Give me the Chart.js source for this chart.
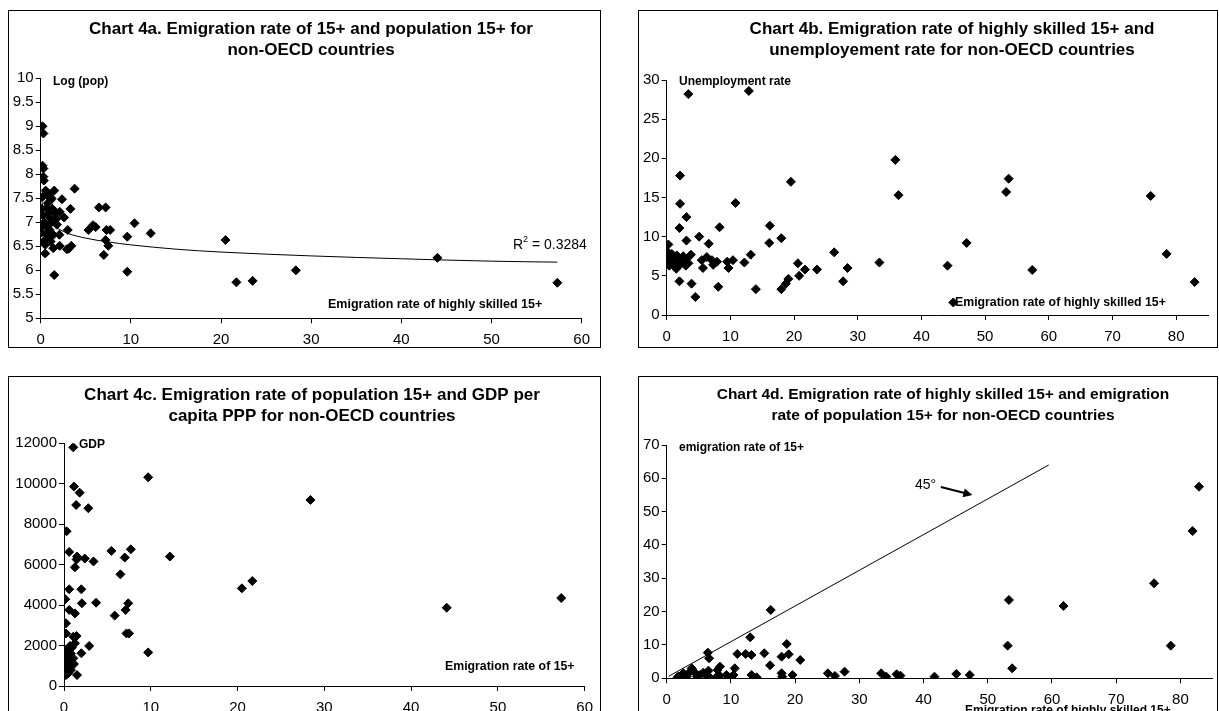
<!DOCTYPE html>
<html>
<head>
<meta charset="utf-8">
<script src="https://cdn.jsdelivr.net/npm/chart.js@4.4.0/dist/chart.umd.min.js"></script>
<style>
    html, body { margin: 0; padding: 0; background: #fff; width: 1219px; height: 711px; overflow: hidden; }
    canvas { position: absolute; }
</style>
</head>
<body>
<canvas id="c4a"></canvas>
<canvas id="c4b"></canvas>
<canvas id="c4c"></canvas>
<canvas id="c4d"></canvas>
<script>
const FONT = '"Liberation Sans", Arial, sans-serif';

// Chart 4a: emigration rate of highly skilled 15+ (x) vs log population (y)
const pop4a = [
    [0.2, 9.0], [0.3, 8.85], [0.2, 8.18], [0.3, 8.12], [0.3, 7.95], [0.35, 7.87], [0.55, 7.66], [0.2, 7.53],
    [0.66, 7.58], [1.5, 7.66], [3.76, 7.7], [2.36, 7.48], [1.14, 7.47], [0.1, 7.28], [1.3, 7.28], [3.3, 7.28],
    [6.46, 7.31], [7.2, 7.31], [0.2, 7.15], [0.9, 7.19], [2.1, 7.22], [1.77, 7.08], [0.3, 6.94], [1.0, 6.84],
    [3.0, 6.84], [0.1, 6.79], [0.66, 6.74], [1.4, 6.74], [2.07, 6.74], [0.3, 6.6], [0.5, 6.53], [0.5, 6.35],
    [1.4, 6.46], [2.1, 6.51], [2.9, 6.44], [3.4, 6.51], [1.5, 5.9], [5.3, 6.84], [5.8, 6.94], [6.1, 6.9],
    [7.3, 6.84], [7.7, 6.84], [7.2, 6.63], [7.5, 6.51], [7.0, 6.32], [9.6, 6.7], [10.4, 6.98], [12.2, 6.77],
    [9.6, 5.97], [20.5, 6.63], [21.7, 5.75], [23.5, 5.78], [28.3, 6.0], [44.0, 6.26], [57.3, 5.74],
    [0.8, 7.4], [1.0, 7.1], [1.2, 7.0], [0.7, 6.9], [1.6, 7.2], [0.9, 7.6], [1.2, 7.5], [0.4, 7.0],
    [0.6, 7.3], [2.6, 7.1], [1.8, 6.95], [0.8, 6.65], [1.1, 6.6], [3.1, 6.45]
];
// logarithmic trend line
const trend4a = [
    [0.1, 7.47], [0.3, 7.25], [0.6, 7.1], [1, 7.0], [2, 6.86], [3, 6.77], [5, 6.67], [7.5, 6.59],
    [10, 6.53], [15, 6.44], [20, 6.38], [30, 6.3], [40, 6.24], [50, 6.19], [57.3, 6.17]
];

// Chart 4b: emigration rate of highly skilled 15+ (x) vs unemployment rate (y)
const unemp4b = [
    [3.4, 28.2], [12.9, 28.6], [2.1, 17.8], [2.1, 14.2], [3.1, 12.5], [2.0, 11.1], [3.1, 9.5], [0.26, 9.0],
    [5.1, 10.0], [6.6, 9.1], [8.3, 11.2], [10.8, 14.3], [16.2, 11.4], [16.1, 9.2], [18.0, 9.8], [19.5, 17.0],
    [35.9, 19.8], [36.4, 15.3], [2.0, 4.3], [3.9, 4.0], [4.5, 2.3], [3.8, 7.7], [5.7, 6.0], [5.5, 7.0],
    [6.3, 7.4], [7.1, 7.0], [7.3, 6.4], [7.9, 6.8], [8.1, 3.6], [9.5, 6.8], [9.7, 6.0], [10.4, 7.0],
    [12.2, 6.7], [13.2, 7.7], [14.0, 3.3], [18.0, 3.3], [18.7, 4.0], [19.1, 4.6], [20.6, 6.6], [20.8, 5.0],
    [21.7, 5.8], [23.6, 5.8], [26.3, 8.0], [27.7, 4.3], [28.4, 6.0], [33.4, 6.7], [53.7, 17.4], [53.3, 15.7],
    [76.0, 15.2], [47.1, 9.2], [78.5, 7.8], [44.1, 6.3], [57.4, 5.75], [82.9, 4.2], [45.0, 1.6],
    [0.2, 8.0], [0.3, 7.6], [0.2, 7.2], [0.3, 6.8], [0.5, 7.4], [0.6, 7.0], [0.7, 6.6], [0.8, 7.8],
    [0.9, 7.2], [1.0, 6.4], [1.1, 7.5], [1.2, 6.9], [1.4, 7.1], [1.5, 6.2], [1.6, 7.6], [1.8, 6.7],
    [2.0, 7.3], [2.2, 6.5], [2.4, 7.0], [2.6, 7.5], [2.8, 6.8], [3.0, 6.3], [3.2, 7.2], [3.4, 6.6],
    [1.5, 5.9], [0.4, 6.3]
];

// Chart 4c: emigration rate of 15+ (x) vs GDP per capita PPP (y)
const gdp4c = [
    [1.07, 11800], [9.7, 10320], [1.15, 9860], [1.8, 9560], [1.4, 8950], [2.8, 8790], [0.3, 7650], [0.6, 6630],
    [1.5, 6400], [1.45, 6260], [2.4, 6300], [3.4, 6160], [1.26, 5870], [5.46, 6680], [7.0, 6350], [7.7, 6760],
    [12.2, 6400], [6.5, 5520], [0.6, 4780], [2.0, 4780], [0.15, 4290], [2.06, 4090], [3.7, 4120], [0.6, 3760],
    [1.26, 3590], [7.4, 4090], [7.1, 3760], [5.84, 3480], [0.23, 3100], [0.23, 2600], [7.2, 2600], [7.5, 2600],
    [1.07, 2440], [1.45, 2470], [1.26, 2110], [2.9, 1980], [0.7, 1980], [2.0, 1620], [9.7, 1660], [0.23, 1780],
    [0.5, 1530], [0.1, 1290], [0.7, 1200], [0.3, 960], [0.9, 1040], [1.15, 1090], [0.1, 710], [0.5, 630],
    [0.23, 540], [1.5, 540], [0.8, 790], [0.3, 1620], [0.6, 1780], [1.07, 1370], [0.4, 1100], [0.2, 1450],
    [0.8, 1600], [0.5, 850], [0.9, 1900], [20.5, 4830], [21.7, 5190], [28.4, 9200], [44.1, 3870], [57.3, 4350]
];

// Chart 4d: emigration rate of highly skilled 15+ (x) vs emigration rate of 15+ (y)
const emig4d = [
    [16.2, 20.5], [13.0, 12.3], [6.4, 7.7], [6.6, 6.0], [11.0, 7.3], [12.3, 7.3], [13.2, 7.0], [15.2, 7.5],
    [16.1, 3.9], [18.7, 10.3], [17.9, 6.5], [19.0, 7.2], [20.8, 5.5], [10.6, 3.0], [8.3, 3.5], [7.9, 2.5],
    [3.9, 3.0], [13.2, 1.0], [14.0, 0.3], [17.9, 1.5], [18.0, 0.5], [19.6, 1.0], [25.1, 1.5], [26.2, 0.7],
    [27.7, 2.0], [33.4, 1.5], [34.2, 0.5], [35.8, 1.2], [36.4, 0.8], [1.7, 0.3], [1.8, 0.5], [2.3, 1.0],
    [3.1, 0.5], [3.4, 1.5], [4.4, 1.7], [5.2, 1.0], [5.7, 1.7], [6.6, 0.5], [6.5, 2.3], [7.8, 0.5],
    [8.3, 0.7], [9.3, 1.0], [10.1, 0.5], [10.4, 1.0], [4.7, 0.5], [2.6, 1.5], [6.1, 1.0],
    [82.9, 57.5], [81.9, 44.2], [75.9, 28.5], [53.3, 23.5], [61.8, 21.7], [53.1, 9.8], [78.5, 9.8],
    [53.8, 3.0], [41.7, 0.5], [45.1, 1.3], [47.2, 1.0]
];
// reference line labelled 45°
const line4d = [[0.3, 0.6], [59.5, 64]];

// draw a scatter panel with a fixed plot area
function makePanel(id, p) {
    const cv = document.getElementById(id);
    const [bx, by, bw, bh] = p.box;
    cv.width = bw; cv.height = bh;
    cv.style.left = bx + 'px'; cv.style.top = by + 'px';
    cv.style.width = bw + 'px'; cv.style.height = bh + 'px';
    const left = p.area[0] - bx, top = p.area[1] - by, right = p.area[2] - bx, bottom = p.area[3] - by;

    const keepSteps = (step) => (s) => {
        s.ticks = s.ticks.filter(t => Math.abs(t.value / step - Math.round(t.value / step)) < 1e-6);
    };
    const axis = (r, isX) => ({
        type: 'linear',
        min: r.min, max: r.max,
        afterBuildTicks: keepSteps(r.step),
        afterFit: (s) => { if (isX) s.height = bh - bottom; else s.width = left; },
        ticks: {
            stepSize: r.step, color: '#000', autoSkip: false, maxRotation: 0,
            padding: isX ? 8 : 2,
            font: { family: FONT, size: 15 },
            callback: (v) => String(v)
        },
        grid: { drawOnChartArea: false, drawTicks: true, tickLength: 5, color: '#000', lineWidth: 1 },
        border: { display: true, color: '#000', width: 1 }
    });

    // titles, axis texts and frame
    const deco = {
        id: 'deco' + id,
        afterDraw(chart) {
            const ctx = chart.ctx;
            ctx.save();
            ctx.strokeStyle = '#000';
            ctx.lineWidth = 1;
            ctx.strokeRect(0.5, 0.5, bw - 1, bh - 1);
            ctx.fillStyle = '#000';
            ctx.textBaseline = 'middle';
            ctx.textAlign = 'center';
            ctx.font = 'bold ' + p.titleSize + 'px ' + FONT;
            p.title.forEach((t, i) => ctx.fillText(t, p.titleX - bx, 19 + i * 21));
            ctx.textAlign = 'left';
            p.texts.forEach(t => {
                ctx.font = (t.bold ? 'bold ' : '') + t.size + 'px ' + FONT;
                ctx.fillText(t.text, t.x - bx, t.y - by);
            });
            if (p.extra) p.extra(chart, ctx, bx, by);
            ctx.restore();
        }
    };

    const datasets = [{
        data: p.points.map(([x, y]) => ({ x, y })),
        pointStyle: 'rectRot', pointRadius: 4.5, pointHoverRadius: 4.5,
        backgroundColor: '#000', borderColor: '#000', borderWidth: 1, showLine: false
    }];
    if (p.line) {
        datasets.push({
            data: p.line.map(([x, y]) => ({ x, y })),
            showLine: true, pointRadius: 0, borderColor: '#000', borderWidth: 1,
            tension: 0.4, cubicInterpolationMode: 'monotone', fill: false
        });
    }

    return new Chart(cv.getContext('2d'), {
        type: 'scatter',
        data: { datasets },
        options: {
            responsive: false, animation: false,
            layout: { padding: { left: 0, top: top, right: bw - right, bottom: 0 } },
            scales: { x: axis(p.x, true), y: axis(p.y, false) },
            plugins: { legend: { display: false }, tooltip: { enabled: false }, title: { display: false } }
        },
        plugins: [deco]
    });
}

makePanel('c4a', {
    box: [8, 10, 593, 338], area: [40.7, 78.3, 581.7, 318.3],
    x: { min: 0, max: 60, step: 10 }, y: { min: 5, max: 10, step: 0.5 },
    points: pop4a, line: trend4a,
    titleX: 311, titleSize: 17,
    title: ['Chart 4a. Emigration rate of 15+ and population 15+ for', 'non-OECD countries'],
    texts: [
        { text: 'Log (pop)', x: 53, y: 82, bold: true, size: 12 },
        { text: 'Emigration rate of highly skilled 15+', x: 328, y: 305, bold: true, size: 12.5 }
    ],
    extra: (chart, ctx, bx, by) => {
        ctx.font = '14px ' + FONT;
        ctx.fillText('R', 513 - bx, 245 - by);
        const w = ctx.measureText('R').width;
        ctx.font = '9px ' + FONT;
        ctx.fillText('2', 513 - bx + w, 240 - by);
        ctx.font = '14px ' + FONT;
        ctx.fillText(' = 0.3284', 513 - bx + w + 5, 245 - by);
    }
});

makePanel('c4b', {
    box: [638, 10, 580, 338], area: [666.7, 80, 1208, 315],
    x: { min: 0, max: 85, step: 10 }, y: { min: 0, max: 30, step: 5 },
    points: unemp4b,
    titleX: 952, titleSize: 17,
    title: ['Chart 4b. Emigration rate of highly skilled 15+ and', 'unemployement rate for non-OECD countries'],
    texts: [
        { text: 'Unemployment rate', x: 679, y: 82, bold: true, size: 12 },
        { text: 'Emigration rate of highly skilled 15+', x: 955, y: 303, bold: true, size: 12.3 }
    ]
});

makePanel('c4c', {
    box: [8, 376, 593, 345], area: [64, 443.3, 587.3, 686],
    x: { min: 0, max: 60, step: 10 }, y: { min: 0, max: 12000, step: 2000 },
    points: gdp4c,
    titleX: 312, titleSize: 17,
    title: ['Chart 4c. Emigration rate of population 15+ and GDP per', 'capita PPP for non-OECD countries'],
    texts: [
        { text: 'GDP', x: 79, y: 445, bold: true, size: 12 },
        { text: 'Emigration rate of 15+', x: 445, y: 667, bold: true, size: 12.3 }
    ]
});

makePanel('c4d', {
    box: [638, 376, 580, 345], area: [666.7, 445, 1213, 678.3],
    x: { min: 0, max: 85, step: 10 }, y: { min: 0, max: 70, step: 10 },
    points: emig4d, line: line4d,
    titleX: 943, titleSize: 15.5,
    title: ['Chart 4d. Emigration rate of highly skilled 15+ and emigration', 'rate of population 15+ for non-OECD countries'],
    texts: [
        { text: 'emigration rate of 15+', x: 679, y: 448, bold: true, size: 12 },
        { text: 'Emigration rate of highly skilled 15+', x: 965, y: 711, bold: true, size: 12 },
        { text: '45°', x: 915, y: 485, bold: false, size: 14 }
    ],
    extra: (chart, ctx) => {
        // arrow pointing at the 45° line, placed in data units
        const xs = chart.scales.x, ys = chart.scales.y;
        const x1 = xs.getPixelForValue(42.7), y1 = ys.getPixelForValue(57.4);
        const x2 = xs.getPixelForValue(47.6), y2 = ys.getPixelForValue(55.0);
        const ang = Math.atan2(y2 - y1, x2 - x1);
        ctx.lineWidth = 2.2;
        ctx.beginPath();
        ctx.moveTo(x1, y1);
        ctx.lineTo(x2 - 6 * Math.cos(ang), y2 - 6 * Math.sin(ang));
        ctx.stroke();
        ctx.beginPath();
        ctx.moveTo(x2, y2);
        ctx.lineTo(x2 - 9 * Math.cos(ang) + 4.5 * Math.sin(ang), y2 - 9 * Math.sin(ang) - 4.5 * Math.cos(ang));
        ctx.lineTo(x2 - 9 * Math.cos(ang) - 4.5 * Math.sin(ang), y2 - 9 * Math.sin(ang) + 4.5 * Math.cos(ang));
        ctx.closePath();
        ctx.fill();
    }
});
</script>
</body>
</html>
